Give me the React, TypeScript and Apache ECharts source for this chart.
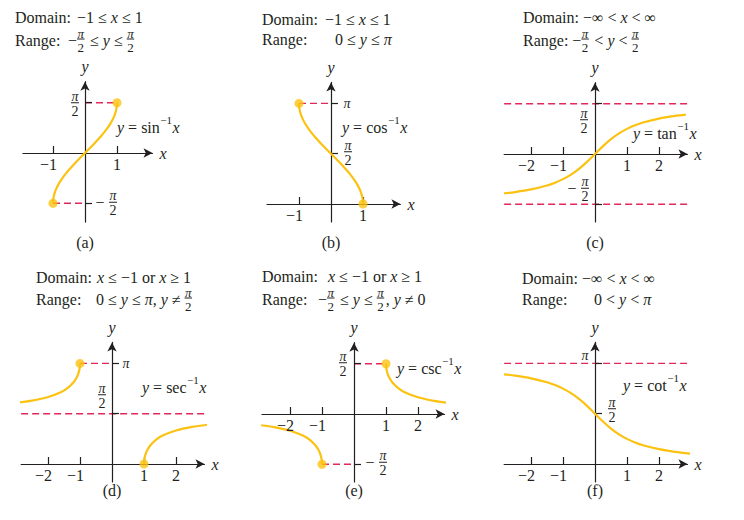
import React, { useEffect, useRef } from 'react';
import * as echarts from 'echarts';

const PI = 3.1416;
const HALF_PI = 1.5708;

// Shared x grid for sin^-1 and cos^-1 (domain -1..1)
const UNIT_X = [-1, -0.995, -0.98, -0.95, -0.9, -0.8, -0.7, -0.6, -0.5, -0.4, -0.3, -0.2, -0.1, 0, 0.1, 0.2, 0.3, 0.4, 0.5, 0.6, 0.7, 0.8, 0.9, 0.95, 0.98, 0.995, 1];
const ASIN_Y = [-1.571, -1.471, -1.371, -1.253, -1.12, -0.927, -0.775, -0.644, -0.524, -0.412, -0.305, -0.201, -0.1, 0, 0.1, 0.201, 0.305, 0.412, 0.524, 0.644, 0.775, 0.927, 1.12, 1.253, 1.371, 1.471, 1.571];
const ACOS_Y = [3.142, 3.042, 2.941, 2.824, 2.691, 2.498, 2.346, 2.214, 2.094, 1.982, 1.875, 1.772, 1.671, 1.571, 1.471, 1.369, 1.266, 1.159, 1.047, 0.927, 0.795, 0.644, 0.451, 0.318, 0.2, 0.1, 0];

const TAN_X = [-2.84, -2.5, -2, -1.5, -1.25, -1, -0.75, -0.5, -0.25, 0, 0.25, 0.5, 0.75, 1, 1.25, 1.5, 2, 2.5, 2.84];
const TAN_Y = [-1.232, -1.19, -1.107, -0.983, -0.896, -0.785, -0.644, -0.464, -0.245, 0, 0.245, 0.464, 0.644, 0.785, 0.896, 0.983, 1.107, 1.19, 1.232];

const COT_X = [-2.84, -2.5, -2, -1.5, -1.25, -1, -0.75, -0.5, -0.25, 0, 0.25, 0.5, 0.75, 1, 1.25, 1.5, 2, 2.5, 3];
const COT_Y = [2.803, 2.761, 2.678, 2.554, 2.467, 2.356, 2.214, 2.034, 1.816, 1.571, 1.326, 1.107, 0.927, 0.785, 0.675, 0.588, 0.464, 0.381, 0.322];

const SEC_L_X = [-3.03, -2.5, -2, -1.6, -1.4, -1.2, -1.1, -1.05, -1.02, -1.005, -1];
const SEC_L_Y = [1.907, 1.982, 2.094, 2.246, 2.366, 2.556, 2.712, 2.832, 2.943, 3.042, 3.142];
const SEC_R_X = [1, 1.005, 1.02, 1.05, 1.1, 1.2, 1.4, 1.6, 2, 2.5, 3];
const SEC_R_Y = [0, 0.1, 0.198, 0.31, 0.43, 0.586, 0.775, 0.896, 1.047, 1.159, 1.231];

const CSC_L_X = [-2.9, -2.5, -2, -1.6, -1.4, -1.2, -1.1, -1.05, -1.02, -1.005, -1];
const CSC_L_Y = [-0.352, -0.412, -0.524, -0.675, -0.796, -0.985, -1.141, -1.261, -1.373, -1.471, -1.571];
const CSC_R_X = [1, 1.005, 1.02, 1.05, 1.1, 1.2, 1.4, 1.6, 2, 2.5, 2.97];
const CSC_R_Y = [1.571, 1.471, 1.373, 1.261, 1.141, 0.985, 0.796, 0.675, 0.524, 0.412, 0.344];

const X_TICKS_SHORT = [-1, 1];
const X_TICKS_LONG = [-2, -1, 1, 2];

const FONT = '"Liberation Serif", "Times New Roman", serif';
const INK = '#231f20';
const GOLD = '#fbc212';
const RED = '#e2285a';
const S = 32; // px per unit
const FS = 16; // text size
const FF = 14; // fraction size at axis ticks
const FT = 13; // fraction size in the headings

type YL = { v: number; kind: 'frac' | 'pi'; dx: number; dy: number; neg?: boolean; mdx?: number };
type Panel = {
  ox: number; oy: number; xmin: number; xmax: number; ymin: number; ymax: number;
  xTicks: number[]; yTicks: number[];
  curves: [number[], number[]][];
  dashes: [number, number, number][];
  dots: [number, number][];
  yLabels: YL[];
  title: { lx: number; vx: [number, number]; rows: [number, number]; lines: [string, string] };
  curveLabel: { text: string; x: number; y: number };
  letter: string; letterY: number;
};

const PANELS: Panel[] = [
  {
    ox: 85, oy: 153, xmin: -1.94, xmax: 2.11, ymin: -2.16, ymax: 2.23,
    xTicks: X_TICKS_SHORT, yTicks: [HALF_PI, -HALF_PI],
    curves: [[UNIT_X, ASIN_Y]],
    dashes: [[0, 1, HALF_PI], [-1, 0, -HALF_PI]],
    dots: [[1, HALF_PI], [-1, -HALF_PI]],
    yLabels: [{ v: HALF_PI, kind: 'frac', dx: -10, dy: 0 }, { v: -HALF_PI, kind: 'frac', neg: true, dx: 28, mdx: 15, dy: -1 }],
    title: { lx: 15, vx: [77, 68], rows: [17, 40], lines: ['−1 ≤ x ≤ 1', '−π/2 ≤ y ≤ π/2'] },
    curveLabel: { text: 'y = sin^{−1}x', x: 117, y: 127 },
    letter: '(a)', letterY: 242,
  },
  {
    ox: 331, oy: 204, xmin: -2.0, xmax: 2.17, ymin: -0.5625, ymax: 3.8,
    xTicks: X_TICKS_SHORT, yTicks: [PI, HALF_PI],
    curves: [[UNIT_X, ACOS_Y]],
    dashes: [[-1, 0, PI]],
    dots: [[-1, PI], [1, 0]],
    yLabels: [{ v: PI, kind: 'pi', dx: 16, dy: 0 }, { v: HALF_PI, kind: 'frac', dx: 17, dy: -2 }],
    title: { lx: 262, vx: [325, 335], rows: [19, 39], lines: ['−1 ≤ x ≤ 1', '0 ≤ y ≤ π'] },
    curveLabel: { text: 'y = cos^{−1}x', x: 342, y: 127 },
    letter: '(b)', letterY: 242,
  },
  {
    ox: 595, oy: 154, xmin: -2.84, xmax: 2.89, ymin: -2.125, ymax: 2.23,
    xTicks: X_TICKS_LONG, yTicks: [HALF_PI, -HALF_PI],
    curves: [[TAN_X, TAN_Y]],
    dashes: [[-9, 9, HALF_PI], [-9, 9, -HALF_PI]],
    dots: [],
    yLabels: [{ v: HALF_PI, kind: 'frac', dx: -11, dy: 16 }, { v: -HALF_PI, kind: 'frac', neg: true, dx: -10, mdx: -23, dy: -16 }],
    title: { lx: 523, vx: [577, 570], rows: [17, 40], lines: ['−∞ < x < ∞', '−π/2 < y < π/2'] },
    curveLabel: { text: 'y = tan^{−1}x', x: 633, y: 133 },
    letter: '(c)', letterY: 242,
  },
  {
    ox: 112, oy: 464, xmin: -2.84, xmax: 2.89, ymin: -0.5625, ymax: 3.8,
    xTicks: X_TICKS_LONG, yTicks: [PI, HALF_PI],
    curves: [[SEC_L_X, SEC_L_Y], [SEC_R_X, SEC_R_Y]],
    dashes: [[-1, 0, PI], [-9, 9, HALF_PI]],
    dots: [[-1, PI], [1, 0]],
    yLabels: [{ v: PI, kind: 'pi', dx: 14, dy: 0 }, { v: HALF_PI, kind: 'frac', dx: -10, dy: -19 }],
    title: { lx: 36, vx: [97, 96], rows: [277, 299], lines: ['x ≤ −1 or x ≥ 1', '0 ≤ y ≤ π, y ≠ π/2'] },
    curveLabel: { text: 'y = sec^{−1}x', x: 142, y: 387 },
    letter: '(d)', letterY: 490,
  },
  {
    ox: 354, oy: 414, xmin: -2.875, xmax: 2.83, ymin: -2.125, ymax: 2.23,
    xTicks: X_TICKS_LONG, yTicks: [HALF_PI, -HALF_PI],
    curves: [[CSC_L_X, CSC_L_Y], [CSC_R_X, CSC_R_Y]],
    dashes: [[0, 1, HALF_PI], [-1, 0, -HALF_PI]],
    dots: [[1, HALF_PI], [-1, -HALF_PI]],
    yLabels: [{ v: HALF_PI, kind: 'frac', dx: -11, dy: -1 }, { v: -HALF_PI, kind: 'frac', neg: true, dx: 29, mdx: 16, dy: -2 }],
    title: { lx: 262, vx: [328, 318], rows: [276, 299], lines: ['x ≤ −1 or x ≥ 1', '−π/2 ≤ y ≤ π/2, y ≠ 0'] },
    curveLabel: { text: 'y = csc^{−1}x', x: 397, y: 368 },
    letter: '(e)', letterY: 490,
  },
  {
    ox: 595, oy: 464, xmin: -2.84, xmax: 2.89, ymin: -0.5625, ymax: 3.8,
    xTicks: X_TICKS_LONG, yTicks: [PI, HALF_PI],
    curves: [[COT_X, COT_Y]],
    dashes: [[-9, 9, PI]],
    dots: [],
    yLabels: [{ v: PI, kind: 'pi', dx: -10, dy: -8 }, { v: HALF_PI, kind: 'frac', dx: 17, dy: -5 }],
    title: { lx: 522, vx: [577, 594], rows: [278, 299], lines: ['−∞ < x < ∞', '0 < y < π'] },
    curveLabel: { text: 'y = cot^{−1}x', x: 623, y: 385 },
    letter: '(f)', letterY: 490,
  },
];

type Seg = { kind: 'text'; s: string; it: boolean } | { kind: 'frac'; n: string; d: string } | { kind: 'sup'; s: string };

function parse(src: string): Seg[] {
  const out: Seg[] = [];
  let i = 0;
  while (i < src.length) {
    if (src.startsWith('π/2', i)) { out.push({ kind: 'frac', n: 'π', d: '2' }); i += 3; continue; }
    if (src[i] === '^') {
      const j = src.indexOf('}', i);
      out.push({ kind: 'sup', s: src.slice(i + 2, j) });
      i = j + 1; continue;
    }
    const ch = src[i];
    const it = ch === 'x' || ch === 'y' || ch === 'π';
    const last = out[out.length - 1];
    if (last && last.kind === 'text' && last.it === it) last.s += ch;
    else out.push({ kind: 'text', s: ch, it });
    i++;
  }
  return out;
}

let ctx: CanvasRenderingContext2D | null = null;
function measure(s: string, italic: boolean, size: number): number {
  if (!ctx) ctx = document.createElement('canvas').getContext('2d');
  if (!ctx) return s.length * size * 0.5;
  ctx.font = `${italic ? 'italic ' : ''}${size}px "Liberation Serif"`;
  return ctx.measureText(s).width;
}

const txt = (s: string, x: number, y: number, size: number, italic: boolean, align: string = 'left') => ({
  type: 'text', x, y, silent: true, z: 10,
  style: {
    text: s, fill: INK, fontFamily: FONT, fontSize: size, lineHeight: Math.round(size * 0.85),
    fontStyle: italic ? 'italic' : 'normal', align, verticalAlign: 'middle',
  },
});
const bar = (x1: number, x2: number, y: number) => ({
  type: 'line', silent: true, z: 10, shape: { x1, y1: y, x2, y2: y }, style: { stroke: INK, lineWidth: 1 },
});

function fraction(out: any[], cx: number, barY: number, n: string, d: string, size: number, up = 6.5, down = 8.5) {
  const w = Math.max(measure(n, true, size), measure(d, false, size)) + 1;
  out.push(txt(n, cx, barY - up, size, true, 'center'));
  out.push(txt(d, cx, barY + down, size, false, 'center'));
  out.push(bar(cx - w / 2, cx + w / 2, barY));
}

function layout(out: any[], src: string, x0: number, yc: number, size: number): number {
  let x = x0;
  for (const seg of parse(src)) {
    if (seg.kind === 'text') {
      out.push(txt(seg.s, x, yc, size, seg.it));
      x += measure(seg.s, seg.it, size);
    } else if (seg.kind === 'sup') {
      const ss = Math.round(size * 0.66);
      out.push(txt(seg.s, x + 0.5, yc - 7, ss, false));
      x += measure(seg.s, false, ss) + 1;
    } else {
      const w = Math.max(measure(seg.n, true, FT), measure(seg.d, false, FT)) + 1;
      fraction(out, x + w / 2, yc - 1, seg.n, seg.d, FT, 6, 8);
      x += w + 1.5;
    }
  }
  return x;
}

const fmtNum = (v: number) => (v < 0 ? '−' + Math.abs(v) : String(v));

export default function App() {
  const ref = useRef<HTMLDivElement>(null);
  useEffect(() => {
    if (!ref.current) return;
    const chart = echarts.init(ref.current, undefined, { renderer: 'svg' });
    const grid: any[] = [];
    const xAxis: any[] = [];
    const yAxis: any[] = [];
    const series: any[] = [];
    const axisLineStyle = { color: INK, width: 1.2 };
    PANELS.forEach((p, i) => {
      grid.push({
        left: p.ox + p.xmin * S,
        top: p.oy - p.ymax * S,
        width: (p.xmax - p.xmin) * S,
        height: (p.ymax - p.ymin) * S,
        containLabel: false,
      });
      xAxis.push({
        type: 'value', gridIndex: i, min: p.xmin, max: p.xmax, z: 3,
        axisLine: { show: true, onZero: true, lineStyle: axisLineStyle, symbol: ['none', 'arrow'], symbolSize: [7, 9] },
        axisTick: { show: true, inside: true, length: 7, customValues: p.xTicks, lineStyle: axisLineStyle },
        axisLabel: { show: false },
        splitLine: { show: false },
        name: 'x', nameLocation: 'end', nameGap: 7,
        nameTextStyle: { fontFamily: FONT, fontSize: FS, fontStyle: 'italic', color: INK, verticalAlign: 'middle' },
      });
      yAxis.push({
        type: 'value', gridIndex: i, min: p.ymin, max: p.ymax, z: 3,
        axisLine: { show: true, onZero: true, lineStyle: axisLineStyle, symbol: ['none', 'arrow'], symbolSize: [7, 9] },
        axisTick: { show: true, inside: true, length: 7, customValues: p.yTicks, lineStyle: axisLineStyle },
        axisLabel: { show: false },
        splitLine: { show: false },
        name: 'y', nameLocation: 'end', nameGap: 7,
        nameTextStyle: { fontFamily: FONT, fontSize: FS, fontStyle: 'italic', color: INK },
      });
      p.dashes.forEach(([x1, x2, y]) => {
        series.push({
          type: 'line', xAxisIndex: i, yAxisIndex: i, silent: true, z: 2, showSymbol: false,
          data: [[Math.max(p.xmin, x1), y], [Math.min(p.xmax, x2), y]],
          lineStyle: { color: RED, width: 1.3, type: [7, 4] },
        });
      });
      p.curves.forEach(([xs, ys]) => {
        series.push({
          type: 'line', xAxisIndex: i, yAxisIndex: i, silent: true, z: 4, showSymbol: false, smooth: 0.3,
          data: xs.map((x, k) => [x, ys[k]]),
          lineStyle: { color: GOLD, width: 2.2 },
        });
      });
      if (p.dots.length) {
        series.push({
          type: 'scatter', xAxisIndex: i, yAxisIndex: i, silent: true, z: 5, symbolSize: 9,
          data: p.dots, itemStyle: { color: GOLD },
        });
      }
    });
    chart.setOption({ animation: false, backgroundColor: '#fff', grid, xAxis, yAxis, series });

    const els: any[] = [];
    PANELS.forEach((p, i) => {
      const t = p.title;
      const e1 = layout(els, 'Domain:', t.lx, t.rows[0], FS);
      const e2 = layout(els, 'Range:', t.lx, t.rows[1], FS);
      layout(els, t.lines[0], Math.max(t.vx[0], e1 + 4), t.rows[0], FS);
      layout(els, t.lines[1], Math.max(t.vx[1], e2 + 4), t.rows[1], FS);
      layout(els, p.curveLabel.text, p.curveLabel.x, p.curveLabel.y, FS);
      const origin = chart.convertToPixel({ gridIndex: i } as any, [0, 0]) as number[];
      els.push(txt(p.letter, origin[0], p.letterY, FS, false, 'center'));
      // x tick labels, placed from the axis scale
      p.xTicks.forEach((v) => {
        const pt = chart.convertToPixel({ gridIndex: i } as any, [v, 0]) as number[];
        if (v < 0) els.push(txt(fmtNum(v), pt[0] + 4, pt[1] + 11, FS, false, 'right'));
        else els.push(txt(fmtNum(v), pt[0], pt[1] + 11, FS, false, 'center'));
      });
      p.yLabels.forEach((l) => {
        const pt = chart.convertToPixel({ gridIndex: i } as any, [0, l.v]) as number[];
        const cx = pt[0] + l.dx;
        const by = pt[1] + l.dy;
        if (l.kind === 'pi') {
          els.push(txt('π', cx, by, FF, true, 'center'));
        } else {
          if (l.neg && l.mdx !== undefined) els.push(txt('−', pt[0] + l.mdx, by, FS, false, 'center'));
          fraction(els, cx, by, 'π', '2', FF);
        }
      });
    });
    chart.setOption({ graphic: { elements: els } });
    return () => chart.dispose();
  }, []);
  return <div ref={ref} style={{ position: 'absolute', left: 0, top: 0, width: 744, height: 520, background: '#fff' }} />;
}
